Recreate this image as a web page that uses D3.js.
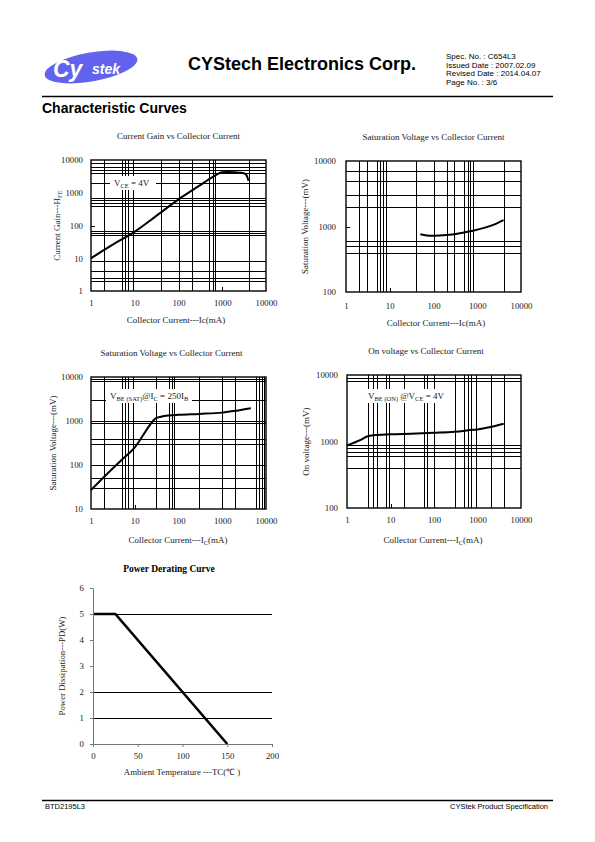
<!DOCTYPE html>
<html><head><meta charset="utf-8">
<script src="https://cdn.jsdelivr.net/npm/d3@7"></script>
<style>body{margin:0;background:#fff}svg{display:block}</style>
</head><body>
<script>
// ---------- data ----------
const decadeTicks = [1, 10, 100, 1000, 10000];
// Current gain vs Ic
const hfeIc  = [1, 3, 10, 30, 100, 300, 600, 1000, 1300, 2000, 3000, 3500, 4000];
const hfeVal = [10, 25, 65, 190, 630, 1650, 3000, 4200, 4300, 4200, 4000, 3600, 2300];
// VCE(sat) vs Ic
const satIc  = [50, 70, 100, 200, 400, 800, 1500, 2500, 4000];
const satVal = [760, 730, 720, 740, 790, 860, 960, 1080, 1250];
// VBE(sat) vs Ic
const vbeSatIc  = [1, 3, 5, 10, 12, 20, 30, 40, 60, 100, 300, 1000, 2000, 4500];
const vbeSatVal = [27, 80, 130, 250, 320, 700, 1150, 1250, 1330, 1380, 1450, 1550, 1700, 1950];
// VBE(on) vs Ic
const vbeOnIc  = [1, 2, 3, 4, 10, 30, 100, 300, 800, 1000, 2000, 4000];
const vbeOnVal = [870, 1050, 1200, 1240, 1280, 1310, 1350, 1400, 1500, 1520, 1650, 1850];
// Power derating
const tempC  = [0, 25, 150];
const powerW = [5, 5, 0];
const tempTicks = [0, 50, 100, 150, 200];
const powerTicks = [0, 1, 2, 3, 4, 5, 6];
// grid lines as drawn in the original sheet
const grid1x = [2, 5, 6, 7, 9, 40, 100, 200, 500, 600, 700, 4000];
const grid1y = [2, 2.5, 4, 8, 50, 60, 70, 400, 500, 600, 700, 2000, 4000, 5000, 6000, 8000];
const grid2x = [2, 3, 5, 6, 7, 8, 40, 100, 200, 300, 500, 600, 700, 800, 4000];
const grid2y = [400, 500, 600, 2000, 3000, 5000, 7000];
const grid3x = [2, 5, 6, 7, 9, 30, 60, 70, 80, 300, 1000, 2000, 6000, 7000, 8000, 9000];
const grid3y = [30, 50, 100, 300, 400, 900, 1000, 3000, 8000, 9000];
const grid4x = [3, 4, 5, 8, 9, 20, 60, 70, 100, 300, 500, 600, 700, 900, 2000, 4000];
const grid4y = [400, 600, 700, 800, 900, 8000, 9000];
const grid5y = [1, 2, 5];

const SERIF = "'Liberation Serif','Times New Roman',serif";
const SANS = "'Liberation Sans',Arial,sans-serif";
const TXT = "#222";

const svg = d3.select("body").append("svg").attr("width", 595).attr("height", 842);

// ---------- header ----------
const logo = svg.append("g").attr("transform", "translate(91,67) rotate(-10)");
logo.append("ellipse").attr("rx", 47).attr("ry", 14.5).attr("fill", "#6262ee");
svg.append("text").attr("x", 53).attr("y", 77).attr("font-family", SANS).attr("font-weight", "bold")
  .attr("font-style", "italic").attr("font-size", 23).attr("fill", "#fff").text("Cy");
svg.append("text").attr("x", 92).attr("y", 74).attr("font-family", SANS).attr("font-weight", "bold")
  .attr("font-style", "italic").attr("font-size", 14).attr("fill", "#fff").text("stek");
svg.append("text").attr("x", 188).attr("y", 70).attr("font-family", SANS).attr("font-weight", "bold")
  .attr("font-size", 18).text("CYStech Electronics Corp.");
const specLines = ["Spec. No. : C654L3", "Issued Date : 2007.02.09", "Revised Date : 2014.04.07", "Page No. : 3/6"];
svg.selectAll(".spec").data(specLines).join("text").attr("x", 446).attr("y", (d, i) => 59 + i * 8.6)
  .attr("font-family", SANS).attr("font-size", 8).text(d => d);
svg.append("line").attr("x1", 42).attr("x2", 553).attr("y1", 96.5).attr("y2", 96.5).attr("stroke", "#000").attr("stroke-width", 1.3);
svg.append("text").attr("x", 42).attr("y", 113).attr("font-family", SANS).attr("font-weight", "bold")
  .attr("font-size", 14).text("Characteristic Curves");
// footer
svg.append("line").attr("x1", 42).attr("x2", 553).attr("y1", 800.5).attr("y2", 800.5).attr("stroke", "#000").attr("stroke-width", 1.3);
svg.append("text").attr("x", 45).attr("y", 809).attr("font-family", SANS).attr("font-size", 7.5).text("BTD2195L3");
svg.append("text").attr("x", 548).attr("y", 809).attr("text-anchor", "end").attr("font-family", SANS).attr("font-size", 7.5).text("CYStek Product Specification");

// ---------- helpers ----------
function richText(sel, parts, size) {
  let prevSub = false;
  parts.forEach(p => {
    const t = sel.append("tspan").text(p[0]);
    const isSub = p[1] === "sub";
    if (isSub) t.attr("font-size", size * 0.72).attr("dy", prevSub ? 0 : 2);
    else t.attr("dy", prevSub ? -2 : 0);
    prevSub = isSub;
  });
}
function addText(x, y, parts, opts = {}) {
  const size = opts.size || 9;
  const t = svg.append("text").attr("x", x).attr("y", y).attr("font-family", SERIF).attr("font-size", size)
    .attr("text-anchor", opts.anchor || "middle").attr("fill", opts.fill || TXT);
  if (opts.weight) t.attr("font-weight", opts.weight);
  if (opts.rotate) t.attr("transform", `rotate(-90,${x},${y})`);
  if (typeof parts === "string") t.text(parts); else richText(t, parts, size);
  return t;
}
const px = v => Math.round(v) + 0.5;

function logChart(o) {
  const x = d3.scaleLog().domain([1, 10000]).range([o.l, o.r]);
  const y = d3.scaleLog().domain(o.yd).range([o.b, o.t]);
  const g = svg.append("g");
  g.selectAll(".gx").data(o.gx).join("line")
    .attr("x1", d => px(x(d))).attr("x2", d => px(x(d))).attr("y1", o.t).attr("y2", o.b)
    .attr("stroke", "#000").attr("stroke-width", 1);
  g.selectAll(".gy").data(o.gy).join("line")
    .attr("y1", d => px(y(d))).attr("y2", d => px(y(d))).attr("x1", o.l).attr("x2", o.r)
    .attr("stroke", "#000").attr("stroke-width", 1);
  (o.tx || []).forEach(v => g.append("line").attr("x1", px(x(v))).attr("x2", px(x(v))).attr("y1", o.b).attr("y2", o.b - 4).attr("stroke", "#000"));
  (o.ty || []).forEach(v => g.append("line").attr("y1", px(y(v))).attr("y2", px(y(v))).attr("x1", o.l).attr("x2", o.l + 4).attr("stroke", "#000"));
  g.append("rect").attr("x", o.l).attr("y", o.t).attr("width", o.r - o.l).attr("height", o.b - o.t)
    .attr("fill", "none").attr("stroke", "#000").attr("stroke-width", 1.4);
  if (o.box) {
    g.append("rect").attr("x", o.box[0]).attr("y", o.box[1]).attr("width", o.box[2]).attr("height", o.box[3]).attr("fill", "#fff");
    addText(o.box[0] + 4, o.box[1] + o.box[3] - 4, o.note, { anchor: "start", size: 9 });
  }
  const pts = o.xs.map((v, i) => [v, o.ys[i]]);
  g.append("path").datum(pts).attr("fill", "none").attr("stroke", "#000").attr("stroke-width", 2)
    .attr("stroke-linejoin", "round")
    .attr("d", d3.line().x(d => x(d[0])).y(d => y(d[1])).curve(d3.curveMonotoneX));
  const ax = svg.append("g").attr("transform", `translate(0,${o.b})`)
    .call(d3.axisBottom(x).tickValues(decadeTicks).tickFormat(d3.format("d")).tickSize(0).tickPadding(o.xpad));
  const yTicks = decadeTicks.filter(v => v >= o.yd[0] && v <= o.yd[1]);
  const ay = svg.append("g").attr("transform", `translate(${o.l},0)`)
    .call(d3.axisLeft(y).tickValues(yTicks).tickFormat(d3.format("d")).tickSize(0).tickPadding(o.ypad));
  [ax, ay].forEach(a => { a.select(".domain").remove(); a.selectAll("text").attr("font-family", SERIF).attr("font-size", 8.8).attr("fill", TXT); });
  addText((o.l + o.r) / 2 + o.titleDx, o.t - 21, o.title, { size: 9 });
  addText(o.xlx, o.xly, o.xlabel, { size: 9 });
  addText(o.ylx, (o.t + o.b) / 2, o.ylabel, { size: 9, rotate: true });
}

// ---------- chart 1 ----------
logChart({ l: 91, r: 266, t: 160, b: 291, yd: [1, 10000], gx: grid1x, gy: grid1y, tx: [1000], ty: [100],
  xs: hfeIc, ys: hfeVal, xpad: 9, ypad: 8, title: "Current Gain vs Collector Current", titleDx: 0,
  xlabel: "Collector Current---Ic(mA)", xlx: 176, xly: 323,
  ylabel: [["Current Gain---H"], ["FE", "sub"]], ylx: 60,
  box: [110, 176, 46, 14], note: [["V"], ["CE", "sub"], [" = 4V"]] });
// ---------- chart 2 ----------
logChart({ l: 346, r: 521, t: 161, b: 292, yd: [100, 10000], gx: grid2x, gy: grid2y, tx: [10], ty: [1000],
  xs: satIc, ys: satVal, xpad: 11, ypad: 10, title: "Saturation Voltage vs Collector Current", titleDx: 0,
  xlabel: "Collector Current---Ic(mA)", xlx: 436, xly: 326,
  ylabel: "Saturation Voltage---(mV)", ylx: 308 });
// ---------- chart 3 ----------
logChart({ l: 91, r: 266, t: 377, b: 509, yd: [10, 10000], gx: grid3x, gy: grid3y, tx: [10],
  xs: vbeSatIc, ys: vbeSatVal, xpad: 9, ypad: 8, title: "Saturation Voltage vs Collector Current", titleDx: -7,
  xlabel: [["Collector Current---I"], ["C", "sub"], ["(mA)"]], xlx: 178, xly: 543,
  ylabel: "Saturation Voltage---(mV)", ylx: 56,
  box: [106, 389, 86, 14], note: [["V"], ["BE (SAT)", "sub"], ["@I"], ["C", "sub"], [" = 250I"], ["B", "sub"]] });
// ---------- chart 4 ----------
logChart({ l: 347, r: 521, t: 375, b: 508, yd: [100, 10000], gx: grid4x, gy: grid4y, tx: [10],
  xs: vbeOnIc, ys: vbeOnVal, xpad: 9, ypad: 9, title: "On voltage vs Collector Current", titleDx: -8,
  xlabel: [["Collector Current---I"], ["C", "sub"], ["(mA)"]], xlx: 433, xly: 543,
  ylabel: "On voltage---(mV)", ylx: 309,
  box: [364, 389, 80, 14], note: [["V"], ["BE (ON)", "sub"], [" @V"], ["CE", "sub"], [" = 4V"]] });

// ---------- chart 5 : power derating ----------
(function () {
  const l = 93, r = 272, t = 588, b = 744;
  const x = d3.scaleLinear().domain([0, 200]).range([l, r]);
  const y = d3.scaleLinear().domain([0, 6]).range([b, t]);
  const g = svg.append("g");
  g.selectAll(".g5").data(grid5y).join("line").attr("x1", l).attr("x2", r)
    .attr("y1", d => px(y(d))).attr("y2", d => px(y(d))).attr("stroke", "#000").attr("stroke-width", 1);
  const ax = svg.append("g").attr("transform", `translate(0,${b})`)
    .call(d3.axisBottom(x).tickValues(tempTicks).tickFormat(d3.format("d")).tickSize(3).tickPadding(6));
  const ay = svg.append("g").attr("transform", `translate(${l},0)`)
    .call(d3.axisLeft(y).tickValues(powerTicks).tickFormat(d3.format("d")).tickSize(3).tickPadding(6));
  [ax, ay].forEach(a => {
    a.select(".domain").attr("stroke", "#777");
    a.selectAll(".tick line").attr("stroke", "#777");
    a.selectAll("text").attr("font-family", SERIF).attr("font-size", 8.8).attr("fill", TXT);
  });
  g.append("path").datum(tempC.map((v, i) => [v, powerW[i]])).attr("fill", "none").attr("stroke", "#000")
    .attr("stroke-width", 2.6).attr("d", d3.line().x(d => x(d[0])).y(d => y(d[1])));
  addText(169, 572, "Power Derating Curve", { size: 9.5, weight: "bold", fill: "#000" });
  addText(182, 775, "Ambient Temperature ---TC(\u2103 )", { size: 8.8 });
  addText(65, (t + b) / 2, "Power Dissipation---PD(W)", { size: 8.8, rotate: true });
})();
</script>
</body></html>
